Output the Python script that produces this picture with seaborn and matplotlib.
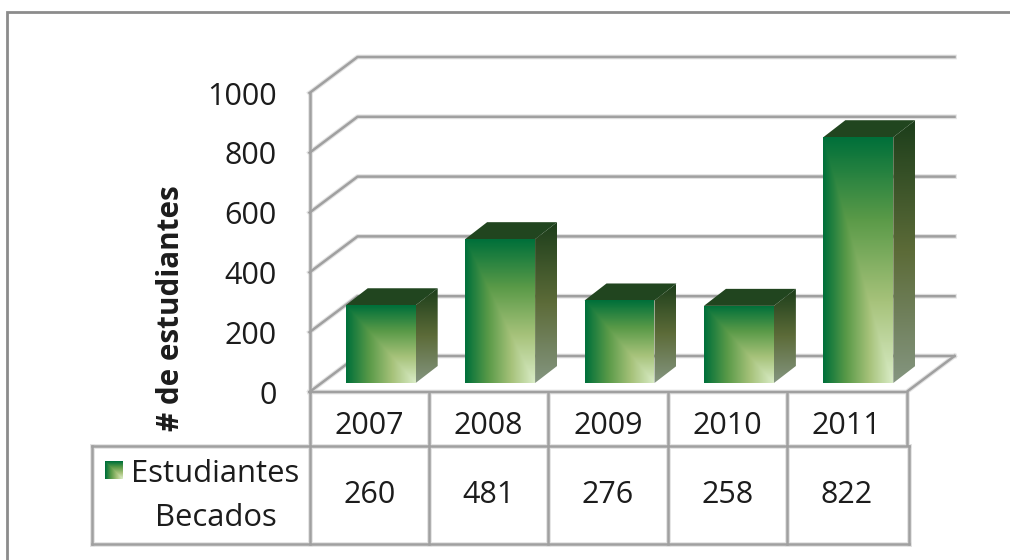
import numpy as np
import pandas as pd
import matplotlib
matplotlib.use("Agg")
import matplotlib.pyplot as plt
from matplotlib.colors import LinearSegmentedColormap
from matplotlib.lines import Line2D
from matplotlib.patches import Polygon, Rectangle
from matplotlib.transforms import IdentityTransform
import seaborn as sns

years = ["2007", "2008", "2009", "2010", "2011"]
becados = [260, 481, 276, 258, 822]
y_ticks = [0, 200, 400, 600, 800, 1000]
y_title = "# de estudiantes"
legend_lines = ["Estudiantes", "Becados"]

W, H = 1010, 560
LINE = "#a0a0a0"
TEXT = "#1c1c1c"
front = LinearSegmentedColormap.from_list("front", ["#00703a", "#5a9a48", "#a6c27a", "#d9ecc6"])
side = LinearSegmentedColormap.from_list("side", ["#1d3e1b", "#5c6b38", "#84957f"])

sns.set_theme(style="white")
plt.rcParams["font.family"] = ["Open Sans", "DejaVu Sans"]

fig = plt.figure(figsize=(W / 100, H / 100), dpi=100)
ax = fig.add_axes([309.5 / W, (H - 392) / H, 597 / W, 299 / H])
ax.patch.set_alpha(0)

df = pd.DataFrame({"anio": years, "becados": becados})
sns.barplot(data=df, x="anio", y="becados", width=0.586, color="#5a9a48", ax=ax)
ax.set_xlim(-0.5, 4.5)
ax.set_ylim(0, 1000)
ax.set_xlabel("")
ax.set_ylabel("")
sns.despine(ax=ax, left=True, bottom=True)
ax.set_yticks(y_ticks)
ax.tick_params(axis="y", length=0, pad=23.5, labelsize=22, labelcolor=TEXT)
ax.tick_params(axis="x", length=0, pad=13.5, labelsize=22, labelcolor=TEXT)
fig.text(171 / W, (H - 308.5) / H, y_title, rotation=90, ha="center", va="center",
         fontsize=21.3, fontweight="bold", color=TEXT)

px = IdentityTransform()


def to_px(x, y):
    return ax.transData.transform((x, y))


def line(xs, ys, lw=1.8, color=LINE):
    # coordinates from the top left corner of the picture, like the zoom tool
    flipped = [H - v for v in ys]
    for width, col, z in [(lw + 1.6, "#e2e2e2", 0.5), (lw, color, 1)]:
        ax.add_line(Line2D(xs, flipped, transform=px, color=col, lw=width, clip_on=False,
                           zorder=z, solid_capstyle="projecting"))


def gradient(grid, cmap, box, clip, z):
    im = ax.imshow(grid, cmap=cmap, vmin=0, vmax=1, aspect="auto", origin="upper",
                   interpolation="bilinear", zorder=z)
    im.set_transform(px)
    im.set_extent(box)
    im.set_clip_box(fig.bbox)
    im.set_clip_path(Polygon(clip, closed=True, transform=px))


def front_grid(width, height):
    u, v = np.meshgrid(np.linspace(0, 1, max(int(width), 2)), np.linspace(0, 1, max(int(height), 2)))
    return np.minimum(u, v)


# walls and floor
left_px = to_px(-0.5, 0)[0]
right_px = to_px(4.5, 0)[0]
for tick in y_ticks:
    y = H - to_px(0, tick)[1]
    line([left_px, left_px + 48, right_px + 48], [y, y - 36, y - 36])
y0 = H - to_px(0, 0)[1]
y1 = H - to_px(0, 1000)[1]
line([left_px, left_px], [y1, y0])
line([left_px, right_px, right_px + 48], [y0, y0, y0 - 36])

# 3d boxes built on the seaborn bars
for bar in ax.patches:
    x_a, y_a = to_px(bar.get_x(), 0)
    x_b, y_b = to_px(bar.get_x() + bar.get_width(), bar.get_height())
    x_a, x_b = x_a + 11.5, x_b + 11.5
    y_a, y_b = y_a + 9, y_b + 9
    bar.set_visible(False)
    dx, dy = 22, 17
    gradient(front_grid(x_b - x_a, y_b - y_a), front, (x_a, x_b, y_a, y_b),
             [(x_a, y_a), (x_b, y_a), (x_b, y_b), (x_a, y_b)], 4)
    gradient(np.linspace(0, 1, 64).reshape(-1, 1), side, (x_b, x_b + dx, y_a, y_b + dy),
             [(x_b, y_a), (x_b + dx, y_a + dy), (x_b + dx, y_b + dy), (x_b, y_b)], 3)
    ax.add_patch(Polygon([(x_a, y_b), (x_b, y_b), (x_b + dx, y_b + dy), (x_a + dx, y_b + dy)],
                         closed=True, transform=px, facecolor="#21451f", edgecolor="none",
                         zorder=3, clip_on=False))

# data table
for i in range(len(years) + 1):
    x = to_px(i - 0.5, 0)[0]
    line([x, x], [y0, 445])
    line([x + (2 if i == len(years) else 0)] * 2, [446, 544])
line([92, 92], [446, 544])
line([92, right_px + 2], [446, 446])
line([92, right_px + 2], [544, 544])
for i, value in enumerate(becados):
    x = to_px(i, 0)[0]
    fig.text(x / W, (H - 495) / H, str(value), ha="center", va="center", fontsize=22, color=TEXT)

# legend inside the table
gradient(front_grid(18, 18), front, (105, 123, H - 479, H - 461),
         [(105, H - 479), (123, H - 479), (123, H - 461), (105, H - 461)], 4)
fig.text(131 / W, (H - 474) / H, legend_lines[0], ha="left", va="center", fontsize=22.3, color=TEXT)
fig.text(216 / W, (H - 518) / H, legend_lines[1], ha="center", va="center", fontsize=22.3, color=TEXT)

# chart border, cut off by the picture
fig.add_artist(Rectangle((7 / W, -0.1), 1.2, (H - 12) / H + 0.1, transform=fig.transFigure,
                         fill=False, edgecolor="#8c8c8c", lw=2))

ax.set_xlim(-0.5, 4.5)
ax.set_ylim(0, 1000)
fig.savefig("out.png", dpi=100)
